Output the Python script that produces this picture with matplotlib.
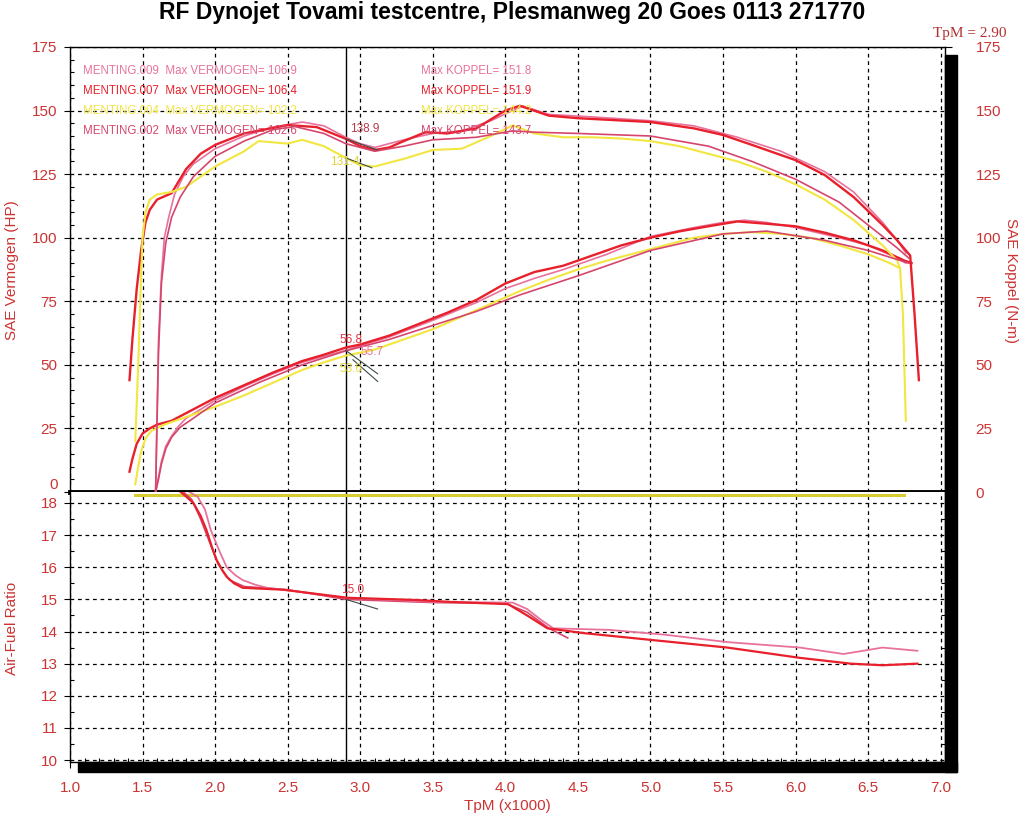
import matplotlib
matplotlib.use("Agg")
import matplotlib.pyplot as plt
from matplotlib.patches import Rectangle

plt.rcParams['font.family'] = ['Liberation Sans', 'DejaVu Sans']

# --- runs: MENTING.009, .007, .004, .002 ---
run_names = ["MENTING.009", "MENTING.007", "MENTING.004", "MENTING.002"]
run_colors = ["#e8729c", "#e8202c", "#f2e640", "#d6466c"]
max_hp = ["106.9", "106.4", "102.2", "102.6"]
max_tq = ["151.8", "151.9", "144.2", "143.7"]

# torque (N-m), read from the sheet
tq_rpm_009 = [1.59, 1.60, 1.61, 1.63, 1.65, 1.68, 1.72, 1.78, 1.85, 2.0, 2.2, 2.4, 2.6, 2.75, 2.9, 3.0, 3.1,
              3.3, 3.5, 3.7, 3.9, 4.05, 4.12, 4.3, 4.6, 5.0, 5.3, 5.6, 5.9, 6.2, 6.4, 6.6, 6.7, 6.76]
tq_009 = [0, 30, 60, 85, 100, 108, 117, 124, 129, 135, 140, 143.5, 145.5, 144, 139.5, 137, 135.5,
          138.5, 141, 142, 146, 150, 151.8, 148.5, 147.5, 146, 144, 139.5, 134, 126, 118, 106, 99, 94]

tq_rpm_007 = [1.41, 1.43, 1.46, 1.49, 1.52, 1.55, 1.6, 1.7, 1.8, 1.9, 2.0, 2.2, 2.5, 2.7, 2.9, 3.0, 3.1,
              3.2, 3.3, 3.45, 3.6, 3.8, 4.0, 4.1, 4.3, 4.5, 5.0, 5.3, 5.5, 5.7, 6.0, 6.2, 6.4, 6.6, 6.7,
              6.76, 6.79, 6.82, 6.85]
tq_007 = [44, 60, 80, 95, 106, 111, 115, 117.5, 127, 133, 136.5, 141, 144.3, 143.5, 138.9, 136, 134.5,
          135.5, 138, 141.5, 141, 143, 150, 151.9, 148, 147, 145.5, 143, 140.4, 136.5, 130.5, 124.7, 116,
          105, 99, 95, 93, 70, 44]

tq_rpm_004 = [1.45, 1.47, 1.49, 1.5, 1.52, 1.55, 1.6, 1.7, 1.8, 1.9, 2.0, 2.2, 2.3, 2.5, 2.6, 2.75, 2.9,
              3.0, 3.1, 3.3, 3.5, 3.7, 3.9, 4.05, 4.2, 4.4, 4.6, 4.8, 5.0, 5.2, 5.4, 5.6, 5.8, 6.0, 6.2,
              6.4, 6.6, 6.7, 6.72, 6.74, 6.76]
tq_004 = [20, 50, 85, 100, 110, 115, 117, 118, 120, 124, 128, 134, 138, 137, 138.5, 136, 131.4,
          128.5, 128, 131, 134.5, 135, 140, 144.2, 141, 139.5, 139.5, 139, 138, 136, 133, 130, 126, 121,
          115, 107, 97, 91, 88, 70, 28]

tq_rpm_002 = [1.59, 1.60, 1.61, 1.63, 1.66, 1.7, 1.76, 1.85, 2.0, 2.2, 2.4, 2.55, 2.75, 2.9, 3.1, 3.3,
              3.5, 3.8, 4.05, 4.2, 4.5, 5.0, 5.4, 5.7, 6.0, 6.3, 6.5, 6.7, 6.78]
tq_002 = [0, 28, 55, 82, 98, 108, 116, 124, 132, 138, 142.5, 143.7, 141, 137, 134, 136,
          138.5, 139.5, 142, 141.5, 141, 140, 136, 130, 123, 114, 105, 96, 92]

# power (HP)
hp_rpm_009 = [1.59, 1.61, 1.63, 1.66, 1.7, 1.75, 1.8, 2.0, 2.2, 2.4, 2.6, 2.9, 3.2, 3.5, 3.8, 4.0, 4.2,
              4.4, 4.7, 5.0, 5.3, 5.5, 5.65, 5.8, 6.0, 6.3, 6.5, 6.7, 6.76]
hp_009 = [0, 6, 12, 18, 22, 26, 29, 36, 41.5, 46.5, 51, 55.7, 61, 67.5, 74.5, 80, 84,
          87.5, 93.5, 100.5, 104, 106, 106.9, 106, 104, 100, 97, 92, 90]

hp_rpm_007 = [1.41, 1.43, 1.46, 1.5, 1.55, 1.6, 1.7, 1.8, 2.0, 2.2, 2.4, 2.6, 2.75, 2.9, 3.0, 3.2, 3.4,
              3.6, 3.8, 4.0, 4.2, 4.4, 4.6, 4.8, 5.0, 5.2, 5.4, 5.6, 5.8, 6.0, 6.2, 6.4, 6.6, 6.75, 6.8]
hp_007 = [8, 13, 19, 23, 25, 26.5, 28, 31, 37, 42, 47, 51.5, 54, 56.8, 58, 61.5, 66,
          70.5, 75.5, 82, 86.5, 89, 93, 97, 100, 102.5, 104.5, 106.4, 105.5, 104.5, 102, 99, 95, 91, 90]

hp_rpm_004 = [1.45, 1.47, 1.49, 1.52, 1.56, 1.65, 1.8, 2.0, 2.2, 2.4, 2.6, 2.75, 2.9, 3.1, 3.3, 3.5,
              3.7, 3.9, 4.1, 4.3, 4.5, 4.7, 4.9, 5.1, 5.3, 5.5, 5.7, 5.9, 6.1, 6.3, 6.5, 6.65, 6.72]
hp_004 = [3, 10, 16, 21, 24, 26.5, 29.5, 33.5, 38, 43, 48, 51, 53.6, 56, 60, 64,
          69, 74, 79, 83.5, 87.5, 91, 94, 97, 100, 101.5, 102.2, 101.5, 100, 97, 93.5, 90, 88]

hp_rpm_002 = [1.59, 1.61, 1.63, 1.66, 1.7, 1.76, 1.85, 2.0, 2.3, 2.6, 2.9, 3.2, 3.5, 3.8, 4.1, 4.5,
              5.0, 5.5, 5.8, 6.2, 6.5, 6.78]
hp_002 = [0, 5, 11, 17, 21.5, 25.5, 29, 35, 43, 50, 55.5, 60, 65.5, 71, 77.5, 85,
          95, 101.5, 102.6, 99, 95, 90]

# air-fuel ratio
afr_rpm_009 = [1.82, 1.88, 1.93, 1.97, 2.03, 2.08, 2.14, 2.19, 2.28, 2.36, 2.9, 3.5, 4.05, 4.15, 4.25,
               4.33, 4.72, 5.1, 5.53, 6.03, 6.33, 6.6, 6.84]
afr_009 = [18.35, 18.19, 17.8, 17.16, 16.5, 16.0, 15.75, 15.6, 15.45, 15.36, 15.05, 14.92, 14.9, 14.7, 14.35,
           14.1, 14.05, 13.9, 13.67, 13.5, 13.3, 13.5, 13.4]
afr_rpm_007 = [1.76, 1.8, 1.85, 1.9, 1.94, 1.98, 2.01, 2.05, 2.08, 2.13, 2.19, 2.47, 2.91, 3.39, 3.62, 4.02,
               4.15, 4.29, 4.54, 5.0, 5.53, 6.03, 6.38, 6.6, 6.84]
afr_007 = [18.35, 18.2, 18.0, 17.6, 17.16, 16.6, 16.23, 15.9, 15.7, 15.5, 15.36, 15.3, 15.05, 14.98, 14.92, 14.85,
           14.5, 14.1, 13.95, 13.74, 13.5, 13.18, 13.0, 12.95, 13.0]
afr_rpm_002 = [1.78, 1.84, 1.9, 1.96, 2.02, 2.1, 2.2, 2.5, 2.9, 3.5, 4.0, 4.15, 4.3, 4.43]
afr_002 = [18.35, 18.1, 17.5, 16.8, 16.1, 15.6, 15.4, 15.3, 15.0, 14.9, 14.88, 14.6, 14.1, 13.8]
afr_rpm_004 = [1.45, 6.75]
afr_004 = [18.25, 18.25]

cursor_rpm = 2.90

tq_runs = [(tq_rpm_009, tq_009), (tq_rpm_007, tq_007), (tq_rpm_004, tq_004), (tq_rpm_002, tq_002)]
hp_runs = [(hp_rpm_009, hp_009), (hp_rpm_007, hp_007), (hp_rpm_004, hp_004), (hp_rpm_002, hp_002)]
line_w = [1.2, 1.7, 1.5, 1.2]
draw_order = [2, 3, 0, 1]

red = "#cc3333"
W, H = 1024, 816
fig = plt.figure(figsize=(W / 100, H / 100), dpi=100)

def fx(px):
    return px / W

def fy(py):
    return 1 - py / H

ax1 = fig.add_axes([fx(70), fy(492), fx(945) - fx(70), fy(47) - fy(492)])
ax2 = fig.add_axes([fx(70), fy(762), fx(945) - fx(70), fy(492) - fy(762)])

# drop shadow on right and bottom of the plot frame
fig.patches.append(Rectangle((fx(945), fy(772)), fx(12), fy(55) - fy(772),
                             transform=fig.transFigure, color="black", zorder=0))
fig.patches.append(Rectangle((fx(78), fy(772)), fx(957) - fx(78), fy(762) - fy(772),
                             transform=fig.transFigure, color="black", zorder=0))

grid_kw = dict(color="black", linestyle=(0, (3, 3)), linewidth=0.9)
for ax in (ax1, ax2):
    ax.set_xlim(1.0, 7.03)
    ax.set_xticks([1.0 + 0.5 * i for i in range(13)])
    ax.set_xticks([1.0 + 0.1 * i for i in range(61)], minor=True)
    ax.grid(True, which="major", **grid_kw)
    ax.axvline(cursor_rpm, color="black", lw=1.0, zorder=3)
    for s in ax.spines.values():
        s.set_linewidth(1.0)
    ax.tick_params(which="minor", direction="in", length=3, width=0.8)
    ax.tick_params(which="major", length=4, width=0.8, colors="black", labelcolor=red, labelsize=11)

# top panel: power + torque
ax1.set_ylim(0, 175)
ax1.set_yticks(range(0, 176, 25))
ax1.set_yticks(range(0, 176, 5), minor=True)
ax1.tick_params(axis="x", which="both", labelbottom=False, bottom=False)
ax1.tick_params(axis="y", which="major", pad=5)
ax1.tick_params(axis="y", which="both", right=True, labelright=False)
ax1.spines["bottom"].set_linewidth(3.5)
ax1.yaxis.get_major_ticks()[0].label1.set_verticalalignment("bottom")

axr = ax1.twinx()
axr.set_ylim(0, 175)
axr.set_yticks(range(0, 176, 25))
axr.tick_params(axis="y", length=5, width=0.8, pad=17, colors="black", labelcolor=red, labelsize=11)
for s in axr.spines.values():
    s.set_visible(False)

for i in draw_order:
    r, t = tq_runs[i]
    ax1.plot(r, t, color=run_colors[i], lw=line_w[i], zorder=4 + i * 0.1)
    r, p = hp_runs[i]
    ax1.plot(r, p, color=run_colors[i], lw=line_w[i], zorder=4 + i * 0.1)

# legend-style text block
row_y = [165.5, 157.5, 150, 142]
for i in range(4):
    ax1.text(1.09, row_y[i], run_names[i] + "  Max VERMOGEN= " + max_hp[i], color=run_colors[i],
             fontsize=8.3, va="center", zorder=6)
    ax1.text(3.42, row_y[i], "Max KOPPEL= " + max_tq[i], color=run_colors[i],
             fontsize=8.3, va="center", zorder=6)

# cursor read-outs
lead = "#3a4a4a"
ax1.plot([2.9, 3.12], [138.9, 134.5], color=lead, lw=0.8, zorder=5)
ax1.plot([2.9, 3.08], [131.4, 127.5], color=lead, lw=0.8, zorder=5)
ax1.text(2.93, 141.5, "138.9", color="#b83a4a", fontsize=8.5, zorder=6)
ax1.text(2.79, 128.5, "131.4", color="#e0d23a", fontsize=8.5, zorder=6)
ax1.plot([2.9, 3.12], [55.7, 46.5], color=lead, lw=0.8, zorder=5)
ax1.plot([2.95, 3.12], [52.0, 43.5], color=lead, lw=0.8, zorder=5)
ax1.text(2.86, 58.5, "56.8", color="#e03040", fontsize=8.5, zorder=6)
ax1.text(3.0, 53.8, "55.7", color="#e8729c", fontsize=8.5, zorder=6)
ax1.text(2.86, 47.0, "53.6", color="#e6dc40", fontsize=8.5, zorder=6)

# bottom panel: air-fuel ratio
ax2.set_ylim(9.94, 18.34)
ax2.set_yticks(range(10, 19))
ax2.set_yticks([10 + 0.5 * i for i in range(17)], minor=True)
ax2.tick_params(axis="y", which="major", pad=5)
ax2.tick_params(axis="x", which="major", pad=10)
ax2.tick_params(axis="both", which="both", right=True, top=False)
ax2.spines["top"].set_visible(False)
ax2.plot(afr_rpm_004, afr_004, color="#d8cc30", lw=2.2, zorder=4)
ax2.plot(afr_rpm_002, afr_002, color=run_colors[3], lw=1.2, zorder=4)
ax2.plot(afr_rpm_009, afr_009, color=run_colors[0], lw=1.3, zorder=4)
ax2.plot(afr_rpm_007, afr_007, color=run_colors[1], lw=1.6, zorder=4)
ax2.plot([2.9, 3.12], [15.0, 14.7], color=lead, lw=0.8, zorder=5)
ax2.text(2.87, 15.2, "15.0", color="#e03040", fontsize=8.5, zorder=6)

# titles and axis names
fig.text(0.5, fy(13), "RF Dynojet Tovami testcentre, Plesmanweg 20 Goes 0113 271770",
         ha="center", va="center", fontsize=16.5, fontweight="bold", color="black")
fig.text(fx(970), fy(34), "TpM = 2.90", ha="center", va="center", fontsize=11,
         family=["Liberation Serif", "DejaVu Serif"], color="#b03030")
fig.text(fx(12), fy(270), "SAE Vermogen (HP)", rotation=90, ha="center", va="center",
         fontsize=11, color=red)
fig.text(fx(1011), fy(280), "SAE Koppel (N-m)", rotation=-90, ha="center", va="center",
         fontsize=11, color=red)
fig.text(fx(12), fy(628), "Air-Fuel Ratio", rotation=90, ha="center", va="center",
         fontsize=11, color=red)
fig.text(fx(507), fy(806), "TpM (x1000)", ha="center", va="center", fontsize=11, color=red)

fig.savefig("out.png", dpi=100)
